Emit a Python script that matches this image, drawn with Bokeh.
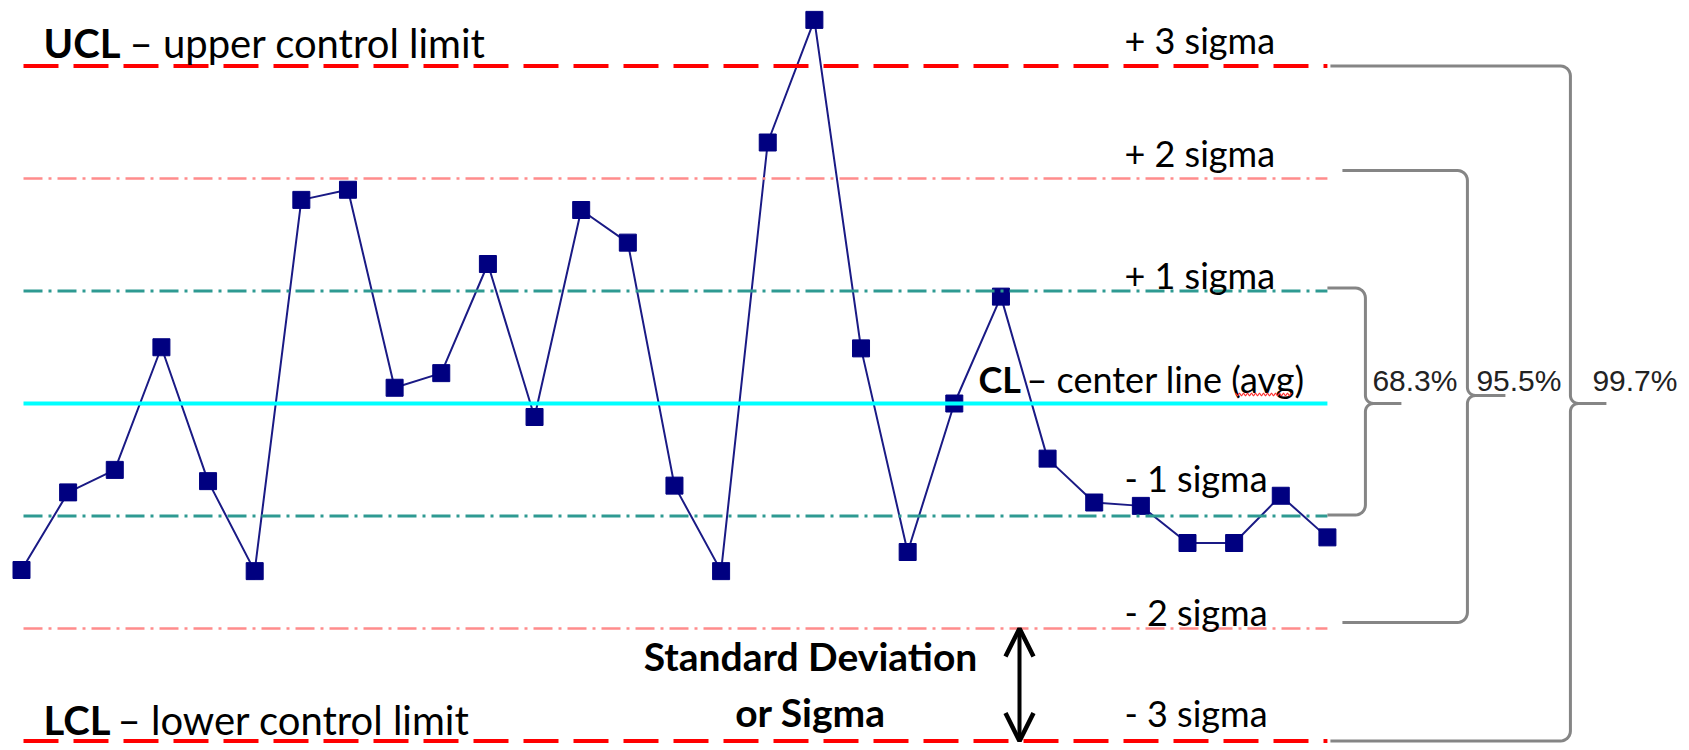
import numpy as np
from bokeh.plotting import figure
from bokeh.models import Range1d, Arrow, OpenHead
from bokeh.core.properties import value
from bokeh.embed import file_html
from bokeh.resources import INLINE

# ---------------- data ----------------
samples = list(range(1, 30))
measurements = [-1.48, -0.79, -0.59, 0.50, -0.69, -1.49, 1.81, 1.90, 0.14, 0.27,
                1.24, -0.12, 1.72, 1.43, -0.73, -1.49, 2.32, 3.41, 0.49, -1.32,
                0.00, 0.95, -0.49, -0.88, -0.91, -1.24, -1.24, -0.82, -1.19]
center_line = 0.0
sigma = 1.0
sigma_multiples = [3, 2, 1, -1, -2, -3]
sigma_labels = ["+ 3 sigma", "+ 2 sigma", "+ 1 sigma", "- 1 sigma", "- 2 sigma", "- 3 sigma"]
coverage_multiples = [1, 2, 3]
coverage_labels = ["68.3%", "95.5%", "99.7%"]

# ---------------- layout ----------------
W, H = 1688, 749
SX = 46.64   # px per sample
SY = 112.5   # px per sigma
x_lo = 1 - 21 / SX
y_hi = center_line + 403 / SY * sigma

p = figure(width=W, height=H, output_backend="svg", toolbar_location=None,
           x_range=Range1d(x_lo, x_lo + W / SX),
           y_range=Range1d(y_hi - H / SY * sigma, y_hi),
           x_axis_location=None, y_axis_location=None, min_border=0)
p.outline_line_color = None
p.grid.visible = False
p.background_fill_color = "white"

FONT = value("Lato")
x_first, x_last = samples[0], samples[-1]
LIFT = -12   # baseline correction for the Lato labels (px)

# data series
p.line(samples, measurements, line_color="#1a1a85", line_width=2)
p.scatter(samples, measurements, marker="square", size=17,
          fill_color="#000080", line_color="#000080")

# horizontal limit lines (drawn over the series, as in the reference)
styles = {3: ("#FF0000", 4, "35 15"), 2: ("#FF8C8C", 2.5, "19 6 3 6"),
          1: ("#2E9A92", 3, "19 6 3 6")}
for m in sigma_multiples:
    col, lw, dash = styles[abs(m)]
    yv = center_line + m * sigma
    p.line([x_first + 2 / SX, x_last], [yv, yv], line_color=col, line_width=lw,
           line_dash=dash)
p.line([x_first + 2 / SX, x_last], [center_line, center_line],
       line_color="#00FFFF", line_width=4)

# sigma labels
lab_x = x_last - 203 / SX
lab_dy = [d + LIFT for d in (-14, -14, -4, -26, -5, -16)]
p.text(x=[lab_x] * len(sigma_labels),
       y=[center_line + m * sigma for m in sigma_multiples],
       text=sigma_labels, y_offset=lab_dy, text_font=FONT, text_font_size="36px",
       text_color="black", text_baseline="alphabetic", text_align="left")

# UCL / LCL labels
name_x = x_first + 22 / SX
for m, bold, rest, bw, dy in [(3, "UCL", "\u2013 upper  control limit", 86, -11),
                              (-3, "LCL", "\u2013 lower control limit", 74, -9)]:
    yv = center_line + m * sigma
    p.text(x=[name_x], y=[yv], text=[bold], y_offset=[dy + LIFT], text_font=FONT,
           text_font_size="40px", text_font_style="bold", text_color="black",
           text_baseline="alphabetic")
    p.text(x=[name_x], y=[yv], text=[rest], x_offset=[bw], y_offset=[dy + LIFT],
           text_font=FONT, text_font_size="40px", text_color="black",
           text_baseline="alphabetic")

# CL label
cl_x = x_first + 957 / SX
p.text(x=[cl_x], y=[center_line], text=["CL"], y_offset=[-15 + LIFT + 2], text_font=FONT,
       text_font_size="36px", text_font_style="bold", text_color="black",
       text_baseline="alphabetic")
p.text(x=[cl_x], y=[center_line], text=["\u2013 center line (avg)"], x_offset=[48],
       y_offset=[-15 + LIFT + 2], text_font=FONT, text_font_size="36px",
       text_color="black", text_baseline="alphabetic")
# spell-check squiggle under "avg"
sq_px = np.arange(0, 57, 2.0)
sq_x = cl_x + (257 + sq_px) / SX
sq_y = center_line + (9 + 1.5 * np.where((sq_px / 2) % 2 == 0, 1, -1)) / SY
p.line(list(sq_x), list(sq_y), line_color="#FF3030", line_width=1.2)

# Standard deviation annotation
sd_x = x_first + 789 / SX
p.text(x=[sd_x, sd_x], y=[center_line - 2 * sigma, center_line - 3 * sigma],
       text=["Standard Deviation", "or Sigma"], y_offset=[43 + LIFT - 4, -17 + LIFT],
       text_font=FONT, text_font_size="39px", text_font_style="bold",
       text_color="black", text_align="center", text_baseline="alphabetic")
arr_x = x_first + 998 / SX
p.add_layout(Arrow(x_start=arr_x, y_start=center_line - 2 * sigma,
                   x_end=arr_x, y_end=center_line - 3 * sigma,
                   start=OpenHead(size=28, line_width=4.5, line_color="black"),
                   end=OpenHead(size=28, line_width=4.5, line_color="black"),
                   line_width=4, line_color="black"))

# brackets
def arc(cx, cy, a0, a1, rx, ry, n=8):
    t = np.radians(np.linspace(a0, a1, n))
    return list(cx + rx * np.cos(t)), list(cy + ry * np.sin(t))

def bracket(xs, xv, xt, top, bot, mid, r=10, rt=8):
    rx, ry = r / SX, r / SY * sigma
    tx, ty = rt / SX, rt / SY * sigma
    X, Y = [xs], [top]
    ax, ay = arc(xv - rx, top - ry, 90, 0, rx, ry); X += ax; Y += ay
    ax, ay = arc(xv + tx, mid + ty, 180, 270, tx, ty); X += ax; Y += ay
    X += [xt, xv + tx]; Y += [mid, mid]
    ax, ay = arc(xv + tx, mid - ty, 90, 180, tx, ty); X += ax; Y += ay
    ax, ay = arc(xv - rx, bot + ry, 0, -90, rx, ry); X += ax; Y += ay
    X += [xs]; Y += [bot]
    p.line(X, Y, line_color="#858585", line_width=3)

# (start, vertical, tip) px right of last sample; (top, bottom, tip) px raised
geom = {1: (0, 38, 74, 3, 1, 0),
        2: (15, 140, 178, 8, 6, 8),
        3: (3, 243, 279, 0, 0, 0)}
for m in coverage_multiples:
    xs, xv, xt, dt, db, dm = geom[m]
    bracket(x_last + xs / SX, x_last + xv / SX, x_last + xt / SX,
            center_line + m * sigma + dt / SY,
            center_line - m * sigma + db / SY,
            center_line + dm / SY)

pct_x = [x_last + d / SX for d in (45, 149, 265)]
p.text(x=pct_x, y=[center_line] * 3, text=coverage_labels, y_offset=[-23] * 3,
       text_font=value("Liberation Sans"), text_font_size="30px",
       text_color="#222222", text_baseline="alphabetic", text_align="left")

open("out.html", "w").write(file_html(p, INLINE))
